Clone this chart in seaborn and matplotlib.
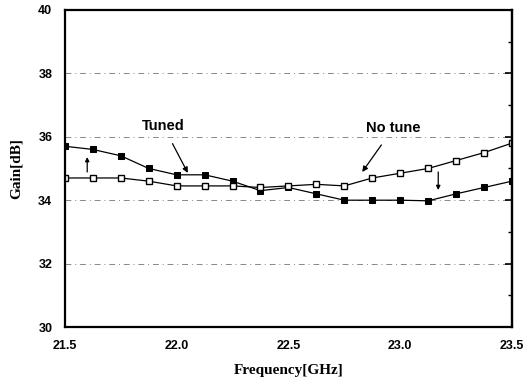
import numpy as np
import pandas as pd
import seaborn as sns
import matplotlib
matplotlib.use("Agg")
import matplotlib.pyplot as plt
from matplotlib.ticker import MultipleLocator

freq = [21.5, 21.625, 21.75, 21.875, 22.0, 22.125, 22.25, 22.375, 22.5,
        22.625, 22.75, 22.875, 23.0, 23.125, 23.25, 23.375, 23.5]
tuned = [35.7, 35.6, 35.4, 35.0, 34.8, 34.8, 34.6, 34.3, 34.4,
         34.2, 34.0, 34.0, 34.0, 33.98, 34.2, 34.4, 34.6]
no_tune = [34.7, 34.7, 34.7, 34.6, 34.45, 34.45, 34.45, 34.4, 34.45,
           34.5, 34.45, 34.7, 34.85, 35.0, 35.25, 35.5, 35.8]

df = pd.concat([
    pd.DataFrame({"freq": freq, "gain": tuned, "series": "Tuned"}),
    pd.DataFrame({"freq": freq, "gain": no_tune, "series": "No tune"}),
])

sns.set_style("white", {"text.color": "black", "axes.labelcolor": "black",
                        "xtick.color": "black", "ytick.color": "black"})
plt.rcParams['font.family'] = ['Liberation Sans', 'DejaVu Sans']

fig = plt.figure(figsize=(5.23, 3.79), dpi=100)
ax = fig.add_axes([0.124, 0.137, 0.855, 0.837])

sns.lineplot(data=df[df.series == "Tuned"], x="freq", y="gain", ax=ax,
             color="black", lw=0.9, marker="s", markersize=5,
             markerfacecolor="black", markeredgecolor="black")
sns.lineplot(data=df[df.series == "No tune"], x="freq", y="gain", ax=ax,
             color="black", lw=0.9, marker="s", markersize=5,
             markerfacecolor="white", markeredgecolor="black", markeredgewidth=1)

ax.set_xlim(21.5, 23.5)
ax.set_ylim(30, 40)
ax.xaxis.set_minor_locator(MultipleLocator(0.25))
ax.yaxis.set_major_locator(MultipleLocator(2))
ax.yaxis.set_minor_locator(MultipleLocator(1))
ax.set_xticks([21.5, 22.0, 22.5, 23.0, 23.5])
ax.set_xticklabels(["21.5", "22.0", "22.5", "23.0", "23.5"])

for y in [32, 34, 36, 38]:
    ax.axhline(y, color="#888888", lw=0.7, ls=(0, (6, 4, 1, 4)), zorder=0)

ax.tick_params(which="major", direction="out", length=5, width=1.2,
               labelsize=9, pad=4)
ax.tick_params(which="minor", direction="out", length=3, width=1)
for lab in ax.get_xticklabels() + ax.get_yticklabels():
    lab.set_fontweight("bold")
for s in ax.spines.values():
    s.set_linewidth(1.6)
    s.set_color("black")

# right side ticks point inward
sec = ax.secondary_yaxis("right")
sec.yaxis.set_major_locator(MultipleLocator(2))
sec.yaxis.set_minor_locator(MultipleLocator(1))
sec.tick_params(which="major", direction="in", length=5, width=1.2, labelright=False)
sec.tick_params(which="minor", direction="in", length=3, width=1)
sec.spines["right"].set_linewidth(1.6)

ax.set_xlabel("Frequency[GHz]", fontsize=11, fontweight="bold",
              family=["Liberation Serif", "DejaVu Serif"], labelpad=9)
ax.set_ylabel("Gain[dB]", fontsize=11, fontweight="bold",
              family=["Liberation Serif", "DejaVu Serif"], labelpad=11)

ax.annotate("Tuned", xy=(22.05, 34.86), xytext=(21.94, 36.34),
            ha="center", va="center", fontsize=10.5, fontweight="bold",
            arrowprops=dict(arrowstyle="-|>", color="black", lw=0.9,
                            mutation_scale=8, shrinkA=6, shrinkB=0))
ax.annotate("No tune", xy=(22.83, 34.89), xytext=(22.97, 36.28),
            ha="center", va="center", fontsize=10.5, fontweight="bold",
            arrowprops=dict(arrowstyle="-|>", color="black", lw=0.9,
                            mutation_scale=8, shrinkA=6, shrinkB=0))
ax.annotate("", xy=(21.6, 35.36), xytext=(21.6, 34.89),
            arrowprops=dict(arrowstyle="-|>", color="black", lw=0.9,
                            mutation_scale=6, shrinkA=0, shrinkB=0))
ax.annotate("", xy=(23.17, 34.32), xytext=(23.17, 34.89),
            arrowprops=dict(arrowstyle="-|>", color="black", lw=0.9,
                            mutation_scale=6, shrinkA=0, shrinkB=0))

fig.savefig("out.png", dpi=100)
